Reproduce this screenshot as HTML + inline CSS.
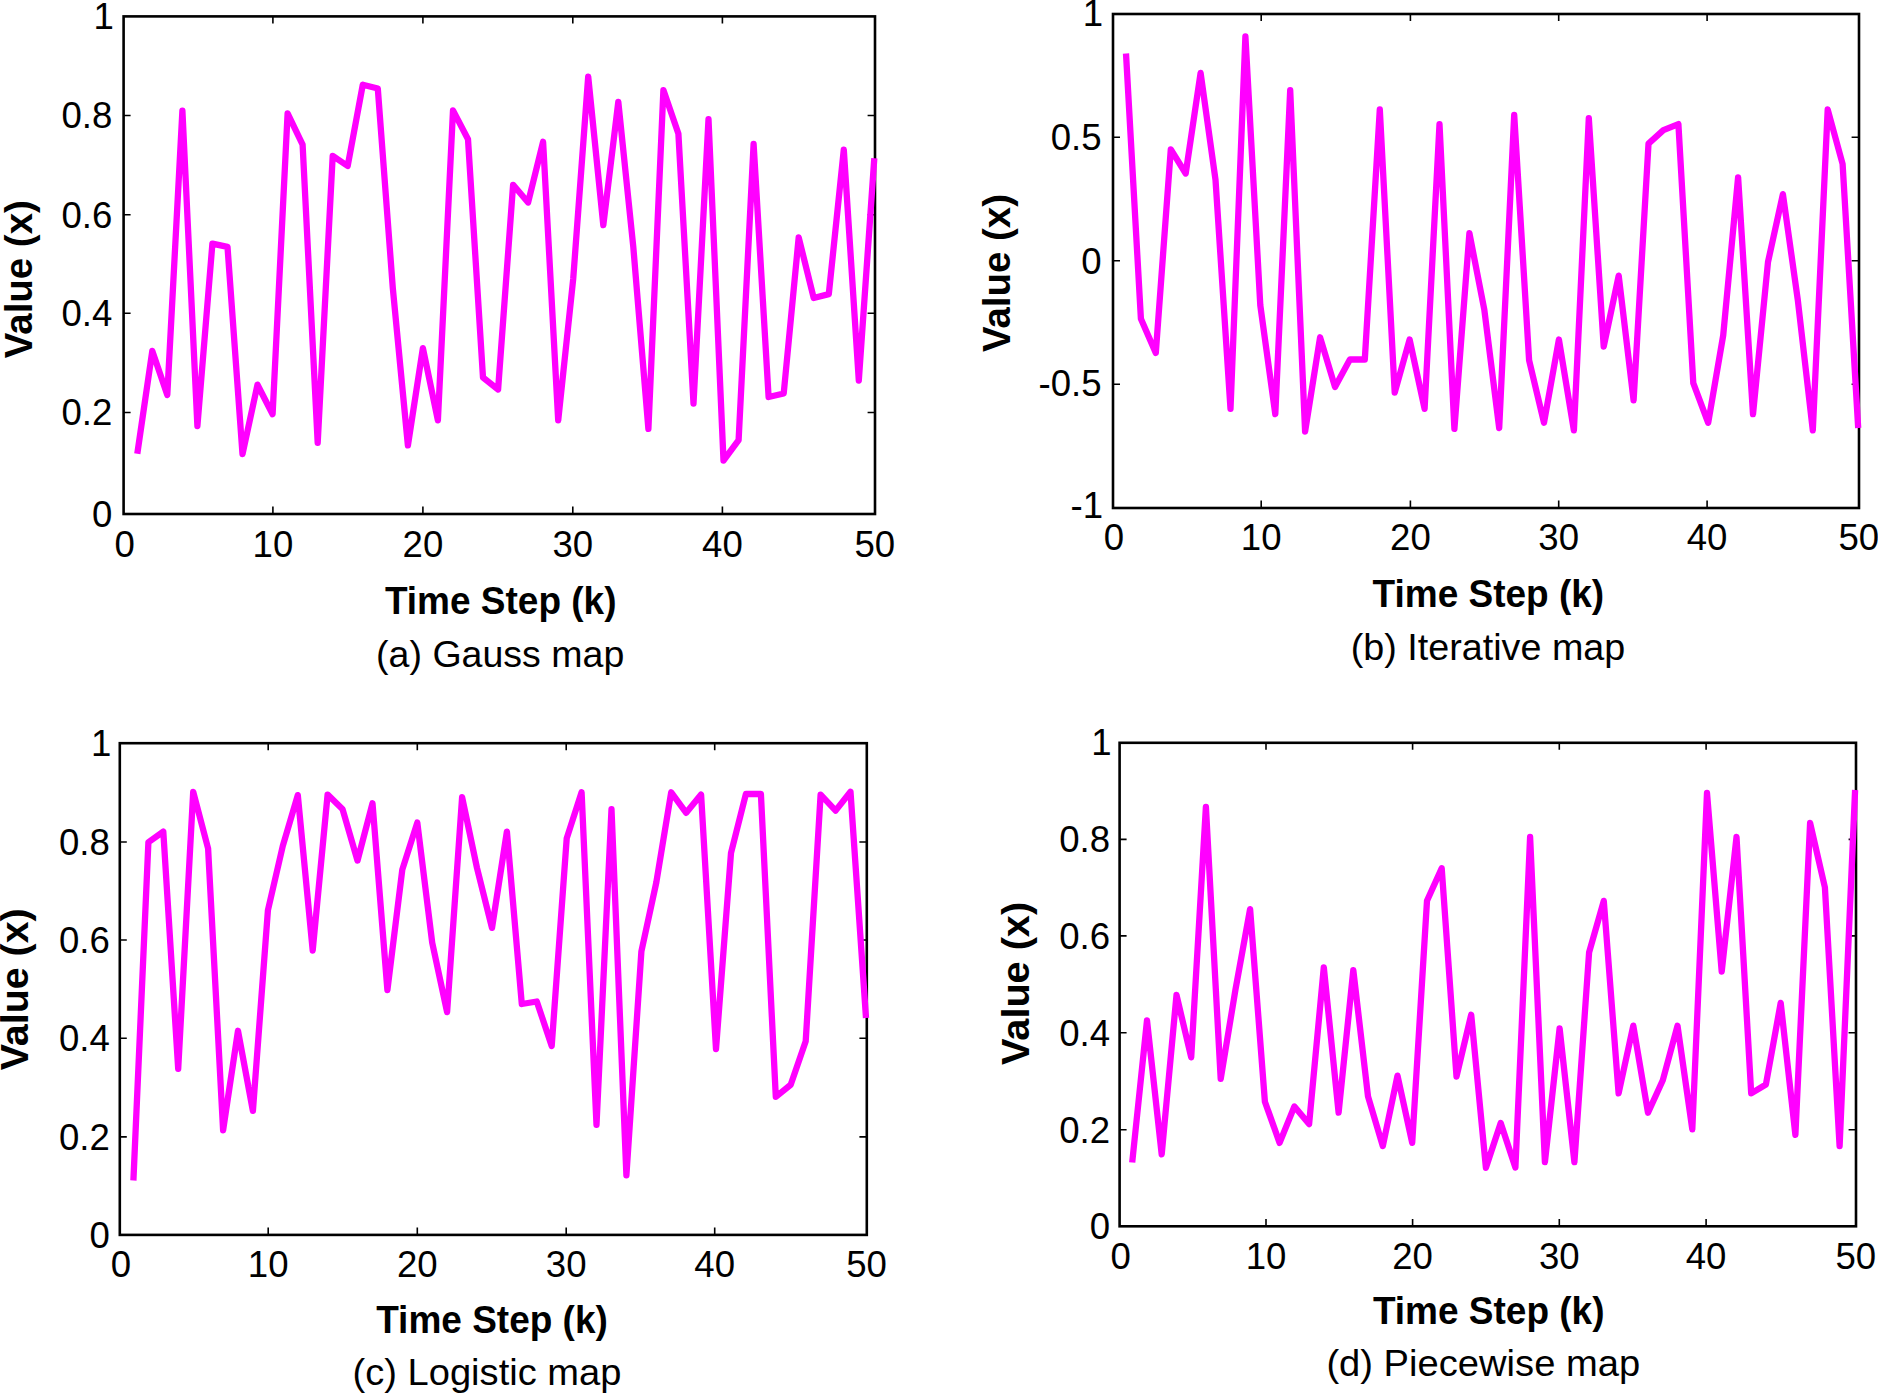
<!DOCTYPE html>
<html lang="en"><head><meta charset="utf-8"><title>Chaotic maps</title>
<style>
html,body{margin:0;padding:0;background:#fff;}
body{width:1878px;height:1394px;overflow:hidden;}
svg{display:block;}
text{font-family:"Liberation Sans",sans-serif;fill:#000;}
.t{font-size:36.6px;}
.b{font-size:38.6px;font-weight:bold;}
.c{font-size:37.3px;}
.ax{fill:none;stroke:#000;stroke-width:2.6;}
.tk{stroke:#000;stroke-width:1.6;fill:none;}
.ln{fill:none;stroke:#ff00ff;stroke-width:6.3;stroke-linejoin:round;stroke-linecap:butt;}
</style></head><body>
<svg width="1878" height="1394" viewBox="0 0 1878 1394">
<rect x="0" y="0" width="1878" height="1394" fill="#fff"/>
<g id="plot-a">
<path class="tk" d="M272.9 513.8v-7.2M272.9 16.2v7.2M422.9 513.8v-7.2M422.9 16.2v7.2M572.8 513.8v-7.2M572.8 16.2v7.2M722.4 513.8v-7.2M722.4 16.2v7.2M123.4 115.5h7.2M874.8 115.5h-7.2M123.4 214.7h7.2M874.8 214.7h-7.2M123.4 313.3h7.2M874.8 313.3h-7.2M123.4 412.5h7.2M874.8 412.5h-7.2"/>
<rect class="ax" x="123.6" y="16.4" width="751.4" height="497.6"/>
<polyline class="ln" points="137.3,453.8 152.3,350.9 167.3,394.9 182.4,110.6 197.4,426.1 212.4,243.6 227.5,246.8 242.5,454.1 257.5,384.7 272.6,414.2 287.6,113.4 302.6,144.6 317.7,442.9 332.7,155.8 347.7,166.0 362.8,84.7 377.8,88.5 392.8,288.0 407.9,445.4 422.9,348.1 437.9,420.3 453.0,110.4 468.0,139.2 483.0,377.5 498.1,389.5 513.1,184.8 528.1,202.5 543.1,141.8 558.2,420.3 573.2,279.0 588.2,76.6 603.3,225.1 618.3,101.9 633.3,247.0 648.4,428.9 663.4,90.1 678.4,133.8 693.5,403.5 708.5,119.2 723.5,460.5 738.6,440.2 753.6,143.9 768.6,397.0 783.7,393.5 798.7,237.4 813.7,298.0 828.8,294.1 843.8,149.7 858.8,380.5 874.3,158.2"/>
<text class="t" text-anchor="end" x="113.9" y="29.0">1</text>
<text class="t" text-anchor="end" x="112.4" y="128.3">0.8</text>
<text class="t" text-anchor="end" x="112.4" y="227.5">0.6</text>
<text class="t" text-anchor="end" x="112.4" y="326.1">0.4</text>
<text class="t" text-anchor="end" x="112.4" y="425.3">0.2</text>
<text class="t" text-anchor="end" x="112.4" y="526.6">0</text>
<text class="t" text-anchor="middle" x="124.6" y="557.2">0</text>
<text class="t" text-anchor="middle" x="272.9" y="557.2">10</text>
<text class="t" text-anchor="middle" x="422.9" y="557.2">20</text>
<text class="t" text-anchor="middle" x="572.8" y="557.2">30</text>
<text class="t" text-anchor="middle" x="722.4" y="557.2">40</text>
<text class="t" text-anchor="middle" x="874.8" y="557.2">50</text>
<text class="b" text-anchor="middle" transform="translate(32.4 279.2) rotate(-90)" textLength="158" lengthAdjust="spacingAndGlyphs">Value (x)</text>
<text class="b" text-anchor="middle" x="500.7" y="614.0" textLength="231.6" lengthAdjust="spacingAndGlyphs">Time Step (k)</text>
<text class="c" text-anchor="middle" x="500.2" y="666.8" textLength="248.2" lengthAdjust="spacingAndGlyphs">(a) Gauss map</text>
</g>
<g id="plot-b">
<path class="tk" d="M1261.2 507.8v-7.2M1261.2 13.8v7.2M1410.4 507.8v-7.2M1410.4 13.8v7.2M1558.7 507.8v-7.2M1558.7 13.8v7.2M1707.1 507.8v-7.2M1707.1 13.8v7.2M1112.8 137.3h7.2M1858.8 137.3h-7.2M1112.8 260.8h7.2M1858.8 260.8h-7.2M1112.8 384.3h7.2M1858.8 384.3h-7.2"/>
<rect class="ax" x="1113.0" y="14.0" width="746.0" height="494.0"/>
<polyline class="ln" points="1126.0,53.5 1140.9,318.7 1155.8,352.9 1170.8,149.3 1185.7,173.5 1200.6,72.9 1215.5,179.7 1230.5,408.9 1245.4,36.3 1260.3,305.3 1275.3,414.2 1290.2,90.1 1305.1,431.5 1320.1,337.3 1335.0,386.9 1349.9,359.5 1364.8,359.5 1379.8,109.5 1394.7,392.7 1409.6,339.5 1424.6,408.9 1439.5,124.1 1454.4,428.9 1469.4,233.2 1484.3,309.6 1499.2,428.2 1514.2,114.9 1529.1,360.2 1544.0,422.8 1558.9,339.5 1573.9,430.4 1588.8,118.1 1603.7,346.5 1618.7,275.6 1633.6,400.3 1648.5,143.7 1663.4,130.2 1678.4,124.1 1693.3,383.2 1708.2,422.8 1723.2,335.4 1738.1,177.3 1753.0,414.2 1768.0,262.0 1782.9,194.1 1797.8,300.0 1812.8,430.4 1827.7,109.5 1842.6,164.0 1858.2,428.0"/>
<text class="t" text-anchor="end" x="1103.1" y="25.8">1</text>
<text class="t" text-anchor="end" x="1101.6" y="150.1">0.5</text>
<text class="t" text-anchor="end" x="1101.6" y="273.6">0</text>
<text class="t" text-anchor="end" x="1101.6" y="396.3">-0.5</text>
<text class="t" text-anchor="end" x="1103.1" y="518.3">-1</text>
<text class="t" text-anchor="middle" x="1114.0" y="549.8">0</text>
<text class="t" text-anchor="middle" x="1261.2" y="549.8">10</text>
<text class="t" text-anchor="middle" x="1410.4" y="549.8">20</text>
<text class="t" text-anchor="middle" x="1558.7" y="549.8">30</text>
<text class="t" text-anchor="middle" x="1707.1" y="549.8">40</text>
<text class="t" text-anchor="middle" x="1858.8" y="549.8">50</text>
<text class="b" text-anchor="middle" transform="translate(1010.4 273.0) rotate(-90)" textLength="158" lengthAdjust="spacingAndGlyphs">Value (x)</text>
<text class="b" text-anchor="middle" x="1488.4" y="607.2" textLength="231.6" lengthAdjust="spacingAndGlyphs">Time Step (k)</text>
<text class="c" text-anchor="middle" x="1488.0" y="660.2" textLength="274.5" lengthAdjust="spacingAndGlyphs">(b) Iterative map</text>
</g>
<g id="plot-c">
<path class="tk" d="M268.2 1234.7v-7.2M268.2 743.0v7.2M417.3 1234.7v-7.2M417.3 743.0v7.2M566.2 1234.7v-7.2M566.2 743.0v7.2M714.7 1234.7v-7.2M714.7 743.0v7.2M119.6 842.0h7.2M866.6 842.0h-7.2M119.6 940.0h7.2M866.6 940.0h-7.2M119.6 1038.3h7.2M866.6 1038.3h-7.2M119.6 1136.9h7.2M866.6 1136.9h-7.2"/>
<rect class="ax" x="119.8" y="743.2" width="747.0" height="491.7"/>
<polyline class="ln" points="133.4,1180.5 148.4,842.2 163.3,831.6 178.2,1068.9 193.2,791.8 208.1,848.5 223.1,1130.3 238.0,1030.8 252.9,1110.9 267.9,910.4 282.8,845.9 297.8,795.1 312.7,950.5 327.6,794.6 342.6,809.3 357.5,860.6 372.5,803.2 387.4,990.1 402.3,869.6 417.3,822.6 432.2,942.7 447.1,1012.1 462.1,797.2 477.0,868.0 492.0,927.9 506.9,831.6 521.8,1004.0 536.8,1001.5 551.7,1045.9 566.7,838.4 581.6,792.3 596.5,1124.9 611.5,809.1 626.4,1175.4 641.4,951.3 656.3,882.5 671.2,792.3 686.2,812.8 701.1,794.6 716.0,1049.1 731.0,853.0 745.9,794.0 760.9,794.0 775.8,1096.9 790.7,1084.8 805.7,1041.3 820.6,794.6 835.6,810.6 850.5,791.8 866.0,1018.0"/>
<text class="t" text-anchor="end" x="111.4" y="755.8">1</text>
<text class="t" text-anchor="end" x="109.9" y="854.8">0.8</text>
<text class="t" text-anchor="end" x="109.9" y="952.8">0.6</text>
<text class="t" text-anchor="end" x="109.9" y="1051.1">0.4</text>
<text class="t" text-anchor="end" x="109.9" y="1149.7">0.2</text>
<text class="t" text-anchor="end" x="109.9" y="1247.5">0</text>
<text class="t" text-anchor="middle" x="120.8" y="1277.0">0</text>
<text class="t" text-anchor="middle" x="268.2" y="1277.0">10</text>
<text class="t" text-anchor="middle" x="417.3" y="1277.0">20</text>
<text class="t" text-anchor="middle" x="566.2" y="1277.0">30</text>
<text class="t" text-anchor="middle" x="714.7" y="1277.0">40</text>
<text class="t" text-anchor="middle" x="866.6" y="1277.0">50</text>
<text class="b" text-anchor="middle" transform="translate(28.4 989.3) rotate(-90)" textLength="162" lengthAdjust="spacingAndGlyphs">Value (x)</text>
<text class="b" text-anchor="middle" x="492.0" y="1333.2" textLength="231.6" lengthAdjust="spacingAndGlyphs">Time Step (k)</text>
<text class="c" text-anchor="middle" x="487.0" y="1385.1" textLength="269.0" lengthAdjust="spacingAndGlyphs">(c) Logistic map</text>
</g>
<g id="plot-d">
<path class="tk" d="M1266.0 1226.1v-7.2M1266.0 742.6v7.2M1412.6 1226.1v-7.2M1412.6 742.6v7.2M1559.3 1226.1v-7.2M1559.3 742.6v7.2M1706.1 1226.1v-7.2M1706.1 742.6v7.2M1119.4 839.4h7.2M1855.8 839.4h-7.2M1119.4 935.9h7.2M1855.8 935.9h-7.2M1119.4 1032.8h7.2M1855.8 1032.8h-7.2M1119.4 1129.7h7.2M1855.8 1129.7h-7.2"/>
<rect class="ax" x="1119.6" y="742.8" width="736.4" height="483.5"/>
<polyline class="ln" points="1132.2,1162.5 1147.0,1020.3 1161.7,1154.3 1176.5,995.0 1191.2,1057.4 1205.9,806.9 1220.7,1078.9 1235.4,990.0 1250.1,909.1 1264.9,1101.7 1279.6,1142.9 1294.4,1106.4 1309.1,1124.1 1323.8,967.3 1338.6,1112.7 1353.3,970.1 1368.0,1096.3 1382.8,1146.1 1397.5,1075.6 1412.2,1142.9 1427.0,900.8 1441.7,868.2 1456.5,1076.6 1471.2,1014.7 1485.9,1167.8 1500.7,1123.0 1515.4,1167.6 1530.1,837.0 1544.9,1162.2 1559.6,1028.3 1574.4,1162.2 1589.1,952.4 1603.8,900.9 1618.6,1093.4 1633.3,1025.7 1648.0,1112.7 1662.8,1080.2 1677.5,1025.7 1692.3,1129.3 1707.0,792.9 1721.7,971.6 1736.5,837.0 1751.2,1093.4 1765.9,1084.5 1780.7,1002.9 1795.4,1134.9 1810.1,823.0 1824.9,887.4 1839.6,1146.1 1855.1,790.0"/>
<text class="t" text-anchor="end" x="1111.5" y="755.4">1</text>
<text class="t" text-anchor="end" x="1110.0" y="852.2">0.8</text>
<text class="t" text-anchor="end" x="1110.0" y="948.7">0.6</text>
<text class="t" text-anchor="end" x="1110.0" y="1045.6">0.4</text>
<text class="t" text-anchor="end" x="1110.0" y="1142.5">0.2</text>
<text class="t" text-anchor="end" x="1110.0" y="1238.9">0</text>
<text class="t" text-anchor="middle" x="1120.6" y="1268.7">0</text>
<text class="t" text-anchor="middle" x="1266.0" y="1268.7">10</text>
<text class="t" text-anchor="middle" x="1412.6" y="1268.7">20</text>
<text class="t" text-anchor="middle" x="1559.3" y="1268.7">30</text>
<text class="t" text-anchor="middle" x="1706.1" y="1268.7">40</text>
<text class="t" text-anchor="middle" x="1855.8" y="1268.7">50</text>
<text class="b" text-anchor="middle" transform="translate(1028.9 983.4) rotate(-90)" textLength="163" lengthAdjust="spacingAndGlyphs">Value (x)</text>
<text class="b" text-anchor="middle" x="1488.7" y="1323.7" textLength="231.6" lengthAdjust="spacingAndGlyphs">Time Step (k)</text>
<text class="c" text-anchor="middle" x="1483.3" y="1375.5" textLength="313.8" lengthAdjust="spacingAndGlyphs">(d) Piecewise map</text>
</g>
</svg>
</body></html>
